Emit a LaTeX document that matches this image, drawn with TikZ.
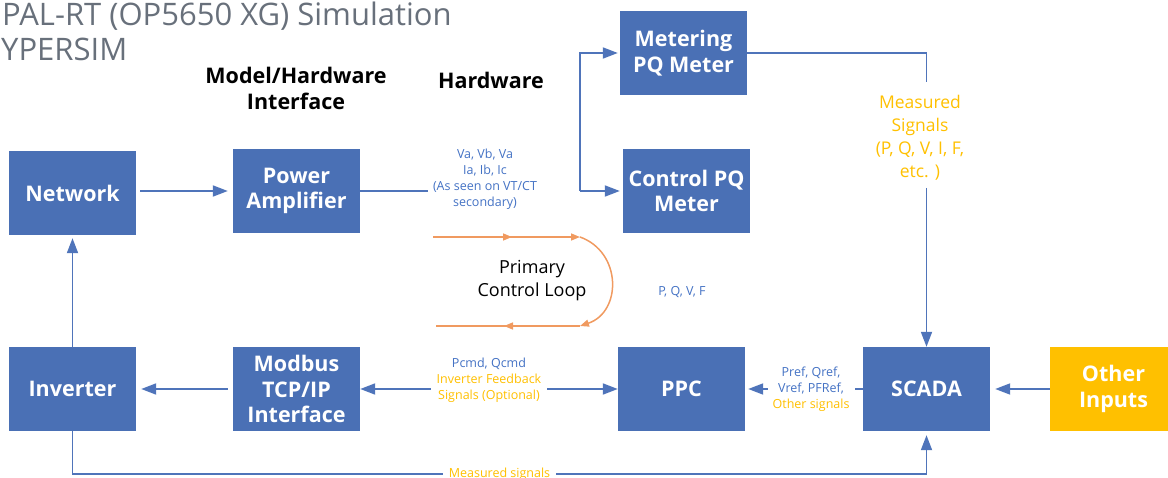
\documentclass[tikz,border=0pt]{standalone}
\usepackage{fontspec}
\setmainfont{Open Sans}
\newfontfamily\titlefont{Open Sans}
\usetikzlibrary{arrows.meta}
\definecolor{boxblue}{HTML}{4A70B5}
\definecolor{lineblue}{HTML}{4F74BA}
\definecolor{txtblue}{HTML}{4472C4}
\definecolor{amber}{HTML}{FFC000}
\definecolor{loopor}{HTML}{F09A60}
\definecolor{titlegray}{HTML}{68707B}

\begin{document}
\begin{tikzpicture}[x=1pt, y=-1pt, % one unit is one pixel, y pointing down
    block/.style={fill=boxblue, text=white, font=\fontsize{21.5}{25.5}\selectfont\bfseries,
        align=center, minimum width=127pt, minimum height=84pt, inner sep=0pt},
    head/.style={font=\fontsize{21.5}{26}\selectfont\bfseries, align=center},
    sig/.style={font=\fontsize{12.5}{16}\selectfont, align=center, text=txtblue, inner sep=1pt},
    link/.style={draw=lineblue, line width=1.8pt, -{Triangle[length=15pt,width=11pt]}},
    ctlloop/.style={draw=loopor, line width=1.5pt}]
    \useasboundingbox (0,0) rectangle (1168,478);

    \node[anchor=base west, inner sep=0pt, font=\titlefont\fontsize{31}{34}\selectfont, text=titlegray]
        (ttl) at (2,26) {PAL-RT (OP5650 XG) Simulation};
    \node[anchor=base west, inner sep=0pt, font=\titlefont\fontsize{31}{34}\selectfont, text=titlegray]
        (ttlb) at (1,61) {YPERSIM};
    \node[head] (mhi) at (296,88) {Model/Hardware\\Interface};
    \node[head] (hw) at (491,80) {Hardware};

    \foreach \name/\x/\y/\txt in {net/72.5/193/Network, amp/296.5/191/{Power\\Amplifier},
            met/683.5/53/{Metering\\PQ Meter}, ctl/686.5/191/{Control PQ\\Meter},
            inv/72.5/389/Inverter, mod/296.5/389/{Modbus\\TCP/IP\\Interface},
            ppc/681.5/389/PPC, sca/926.5/389/SCADA}
        \node[block] (\name) at (\x,\y) {\txt};
    \node[block, fill=amber] (oth) at (1113.5,389) {Other\\Inputs};

    \node[sig] (vabc) at (485,179) {Va, Vb, Va\\Ia, Ib, Ic\\(As seen on VT/CT\\secondary)};
    \node[sig] (pqvf) at (682,292) {P, Q, V, F};
    \node[sig, text=amber, font=\fontsize{17.5}{23}\selectfont] (meas) at (920,138)
        {Measured\\Signals\\(P, Q, V, I, F,\\etc. )};
    \node[font=\fontsize{18}{23}\selectfont, align=center] (pcl) at (532,281) {Primary\\Control Loop};

    \coordinate (vaend) at (428,191);
    \coordinate (split) at (580,191);
    \coordinate (mtop) at (926.5,82);
    \coordinate (mbot) at (926.5,188);

    \draw[link, shorten <=4pt, shorten >=5pt] (net.east |- amp) -- (amp);
    \draw[link, -] (amp.east) -- (vaend);
    \draw[link, shorten >=2pt] (split) |- (met.west);
    \draw[link, shorten >=3pt] (split) -- (ctl.west);
    \draw[link, -] (met.east) -| (mtop);
    \draw[link] (mbot) -- (sca.north);
    \draw[link, shorten >=5pt] (oth) -- (sca);
    \draw[link, shorten >=3pt] (sca) -- node[sig, fill=white, pos=0.44, inner xsep=5pt]
        {Pref, Qref,\\Vref, PFRef,\\{\color{amber}Other signals}} (ppc);
    \draw[link, {Triangle[length=15pt,width=11pt]}-{Triangle[length=15pt,width=11pt]}]
        (mod) -- node[sig, fill=white, yshift=9pt, inner xsep=6pt]
        {Pcmd, Qcmd\\{\color{amber}Inverter Feedback}\\{\color{amber}Signals (Optional)}} (ppc);
    \draw[link, shorten <=5pt, shorten >=5pt] (mod) -- (inv);
    \draw[link, shorten >=3pt] (inv) -- (net);
    \draw[link, shorten >=4pt] (inv.south) -- ++(0,43)
        -| node[pos=0.25, sig, text=amber, fill=white, inner xsep=6pt] {Measured signals} (sca.south);

    % primary control loop
    \draw[ctlloop, -{Triangle[length=9pt,width=7pt]}] (433,237) -- (512,237);
    \draw[ctlloop, -{Triangle[length=9pt,width=7pt]}] (510,237) -- (580,237);
    \draw[ctlloop, -{Triangle[length=9pt,width=7pt]}] (580,237) .. controls (622,252) and (622,312) .. (580,326);
    \draw[ctlloop, -{Triangle[length=9pt,width=7pt]}] (580,326) -- (504,326);
    \draw[ctlloop] (506,326) -- (436,326);
\end{tikzpicture}
\end{document}
